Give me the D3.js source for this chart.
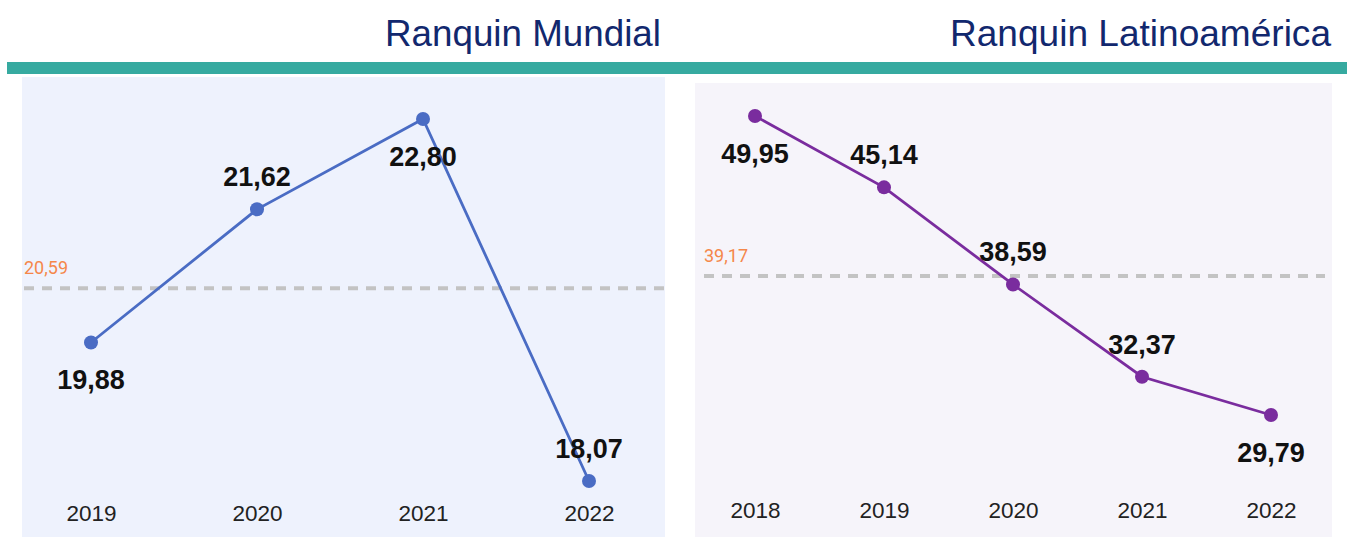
<!DOCTYPE html>
<html><head><meta charset="utf-8">
<script src="https://cdn.jsdelivr.net/npm/d3@7"></script>
<style>html,body{margin:0;padding:0;background:#fff;}svg{display:block;}</style>
</head><body>
<svg id="c" width="1347" height="537"></svg>
<script>
const worldYears = ["2019","2020","2021","2022"];
const worldValues = [19.88, 21.62, 22.80, 18.07];
const worldLabelPos = ["below","above","below","above"];
const worldAverage = 20.59;

const latamYears = ["2018","2019","2020","2021","2022"];
const latamValues = [49.95, 45.14, 38.59, 32.37, 29.79];
const latamLabelPos = ["below","above","above","above","below"];
const latamAverage = 39.17;

const titles = ["Ranquin Mundial", "Ranquin Latinoamérica"];

const svg = d3.select("#c");
const fmt = v => d3.format(".2f")(v).replace(".", ",");

// teal bar
svg.append("rect").attr("x",7).attr("y",62).attr("width",1340).attr("height",12).attr("fill","#36aaa0");

function panel(cfg){
  const g = svg.append("g");
  g.append("rect").attr("x",cfg.px).attr("y",cfg.py).attr("width",cfg.pw).attr("height",537-cfg.py).attr("fill",cfg.bg);
  svg.append("text").attr("x",cfg.titleX).attr("y",46).attr("text-anchor","end")
    .attr("font-family","Liberation Sans, Arial, sans-serif").attr("font-size",36).attr("fill","#12286e")
    .attr("textLength",cfg.titleW).attr("lengthAdjust","spacingAndGlyphs").text(cfg.title);
  const x = d3.scalePoint().domain(cfg.years).range(cfg.xr);
  const y = d3.scaleLinear().domain(d3.extent(cfg.values)).range(cfg.yr);
  // average dashed line
  g.append("line").attr("x1",cfg.avgX1).attr("x2",cfg.avgX2).attr("y1",y(cfg.avg)).attr("y2",y(cfg.avg))
    .attr("stroke","#c3c3c3").attr("stroke-width",4).attr("stroke-dasharray","10,8");
  g.append("text").attr("x",cfg.avgX1).attr("y",y(cfg.avg)-14).attr("font-family","Roboto, sans-serif")
    .attr("font-size",18).attr("fill","#f5874a").text(fmt(cfg.avg));
  // x axis
  const ax = g.append("g").attr("transform",`translate(0,${cfg.axisY})`).call(d3.axisBottom(x).tickSize(0).tickPadding(0));
  ax.select(".domain").remove();
  ax.selectAll("text").attr("dy",null).attr("y",0).attr("font-family","Liberation Sans, Arial, sans-serif").attr("font-size",22.5).attr("fill","#222");
  const data = cfg.years.map((yr,i)=>({yr, v:cfg.values[i], pos:cfg.pos[i]}));
  g.append("path").datum(data).attr("fill","none").attr("stroke",cfg.color).attr("stroke-width",2.8)
    .attr("d", d3.line().x(d=>x(d.yr)).y(d=>y(d.v)));
  g.selectAll("circle.pt").data(data).join("circle").attr("cx",d=>x(d.yr)).attr("cy",d=>y(d.v)).attr("r",7).attr("fill",cfg.color);
  g.selectAll("text.lbl").data(data).join("text").attr("class","lbl")
    .attr("x",d=>x(d.yr)).attr("y",d=>y(d.v)+(d.pos==="below"?47:-23))
    .attr("text-anchor","middle").attr("font-family","Liberation Sans, Arial, sans-serif")
    .attr("font-weight","bold").attr("font-size",27).attr("fill","#111").text(d=>fmt(d.v));
}

panel({px:22,py:77,pw:643,bg:"#eef2fd",title:titles[0],titleX:661,titleW:276,years:worldYears,values:worldValues,pos:worldLabelPos,avg:worldAverage,
  xr:[91,589], yr:[481,119], avgX1:24, avgX2:665, axisY:521, color:"#4a6cc4"});
panel({px:695,py:83,pw:637,bg:"#f6f4fa",title:titles[1],titleX:1331,titleW:381,years:latamYears,values:latamValues,pos:latamLabelPos,avg:latamAverage,
  xr:[755,1271], yr:[415,116], avgX1:704, avgX2:1325, axisY:518, color:"#7a2c9e"});
</script>
</body></html>
